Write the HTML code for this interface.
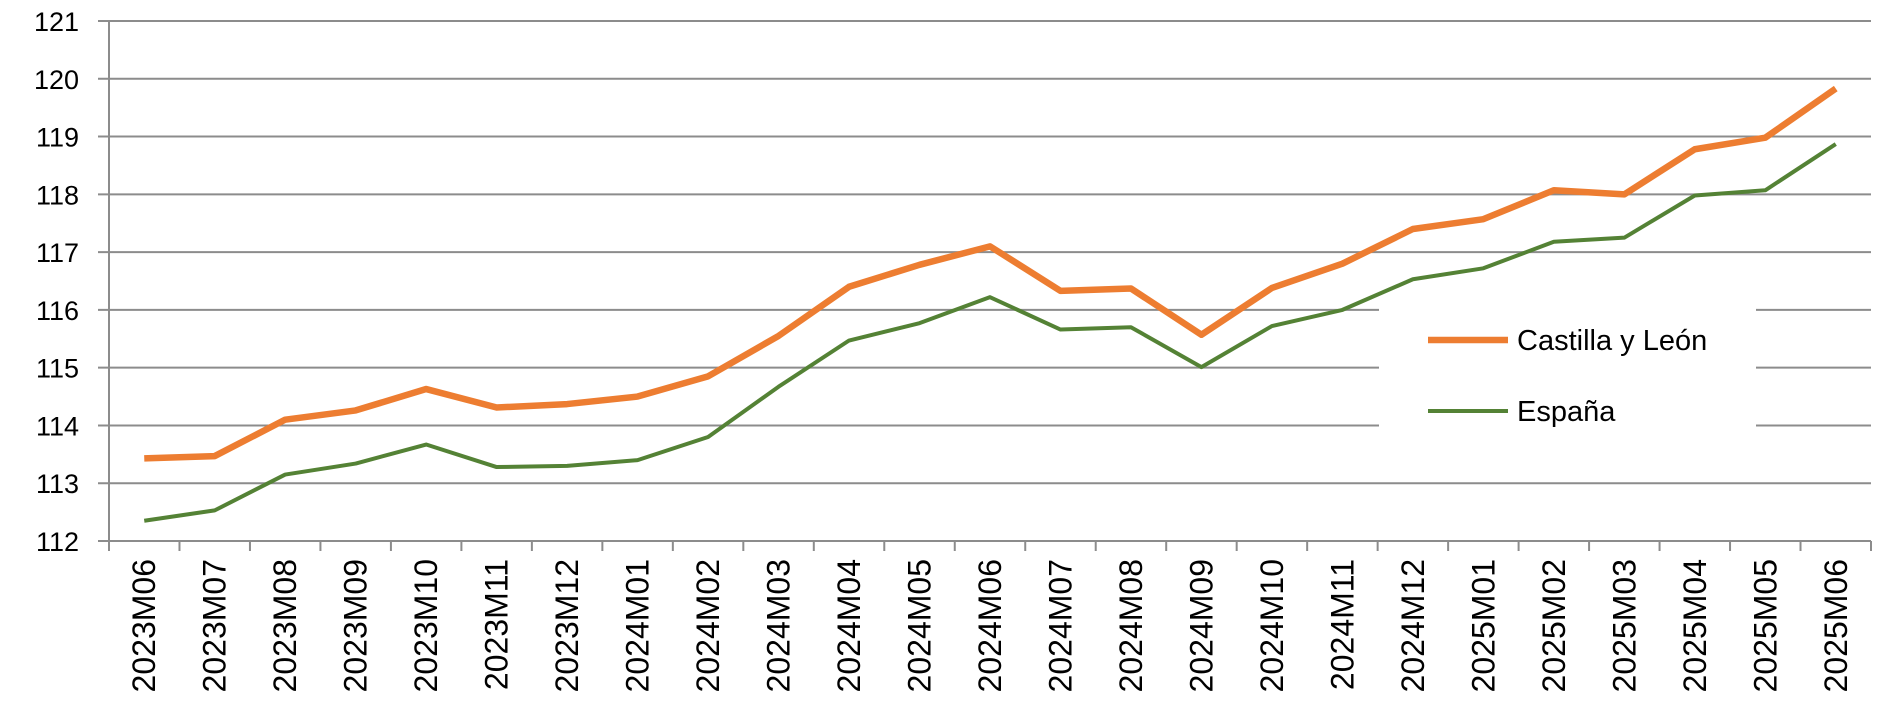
<!DOCTYPE html>
<html><head><meta charset="utf-8"><style>
html,body{margin:0;padding:0;background:#fff;width:1900px;height:725px;overflow:hidden}
svg{display:block}
text{font-family:"Liberation Sans",sans-serif;fill:#000}
</style></head><body>
<svg id="chart" width="1900" height="725"></svg>
<script>
const categories=["2023M06","2023M07","2023M08","2023M09","2023M10","2023M11","2023M12","2024M01","2024M02","2024M03","2024M04","2024M05","2024M06","2024M07","2024M08","2024M09","2024M10","2024M11","2024M12","2025M01","2025M02","2025M03","2025M04","2025M05","2025M06"];
const castilla=[113.43,113.47,114.1,114.26,114.63,114.31,114.37,114.5,114.85,115.55,116.4,116.78,117.1,116.33,116.37,115.57,116.38,116.8,117.4,117.57,118.07,118.0,118.78,118.98,119.83];
const espana=[112.35,112.53,113.15,113.34,113.67,113.28,113.3,113.4,113.8,114.67,115.47,115.77,116.22,115.66,115.7,115.01,115.72,116.0,116.53,116.72,117.18,117.25,117.98,118.07,118.87];
const yTicks=[112,113,114,115,116,117,118,119,120,121];
const seriesNames=["Castilla y León","España"];

const NS="http://www.w3.org/2000/svg";
const svg=document.getElementById('chart');
const L=109,R=1871,T=21,B=541,yMin=112,yMax=121;
const step=(R-L)/categories.length;
function x(i){return L+step*(i+0.5);}
function y(v){return B-(v-yMin)/(yMax-yMin)*(B-T);}
function mk(tag,attrs){const e=document.createElementNS(NS,tag);for(const k in attrs)e.setAttribute(k,attrs[k]);svg.appendChild(e);return e;}

yTicks.forEach(v=>{
  const yy=y(v);
  const legendGap=(v>=114&&v<=116);
  if(legendGap){
    const g1=mk('line',{x1:98,x2:1379,y1:yy,y2:yy,stroke:'#8c8c8c','stroke-width':2});
    
    
    const g2=mk('line',{x1:1756,x2:R,y1:yy,y2:yy,stroke:'#8c8c8c','stroke-width':2});
    
    
  } else {
    const g=mk('line',{x1:98,x2:R,y1:yy,y2:yy,stroke:'#8c8c8c','stroke-width':2});
    
    
  }
  const t=mk('text',{x:79,y:yy+10,'text-anchor':'end','font-size':27});
  t.textContent=v;
  
  
});
const ya=mk('line',{x1:L,x2:L,y1:T,y2:B+10,stroke:'#8c8c8c','stroke-width':2});


for(let i=0;i<=categories.length;i++){
  const xx=L+step*i;
  const tk=mk('line',{x1:xx,x2:xx,y1:B,y2:B+10,stroke:'#8c8c8c','stroke-width':2});
  
  
}
categories.forEach((c,i)=>{
  const xx=x(i)+11;
  const t=mk('text',{x:0,y:0,'text-anchor':'end','font-size':32,transform:`translate(${xx},559) rotate(-90)`});
  t.textContent=c;
  
  
});
function line(data,color,w,name){
  const p=mk('polyline',{points:data.map((v,i)=>x(i)+','+y(v)).join(' '),fill:'none',stroke:color,'stroke-width':w,'stroke-linejoin':'round'});
  
  
}
line(castilla,'#ed7d31',6.5,'castilla-line');
line(espana,'#548235',4,'espana-line');
const l1=mk('line',{x1:1428,x2:1508,y1:340,y2:340,stroke:'#ed7d31','stroke-width':6.5});


const t1=mk('text',{x:1517,y:350,'font-size':29});
t1.textContent=seriesNames[0];


const l2=mk('line',{x1:1428,x2:1508,y1:411,y2:411,stroke:'#548235','stroke-width':4});


const t2=mk('text',{x:1517,y:421,'font-size':29});
t2.textContent=seriesNames[1];


</script>
</body></html>
